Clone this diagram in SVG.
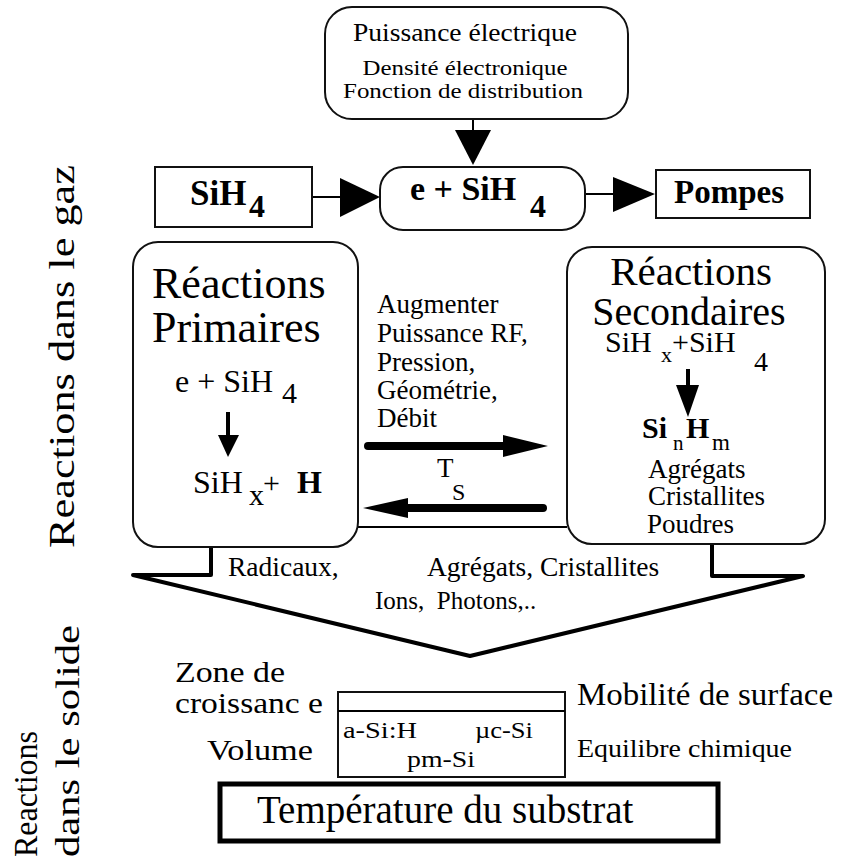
<svg xmlns="http://www.w3.org/2000/svg" width="842" height="859" viewBox="0 0 842 859">
<style>
text { font-family: "Liberation Serif", "Times New Roman", serif; fill: #000; }
.b { font-weight: bold; }
.box { fill: #fff; stroke: #111; stroke-width: 2; }
.ln { fill: none; stroke: #000; stroke-width: 2; }
.thick { fill: none; stroke: #000; stroke-width: 8; stroke-linecap: round; }
.mid { stroke: #000; stroke-width: 4; fill: none; }
.head { fill: #000; stroke: none; }
</style>
<rect width="842" height="859" fill="#fff"/>

<g id="side-labels">
  <text transform="translate(74,548) rotate(-90)" font-size="35" textLength="383" lengthAdjust="spacingAndGlyphs">Reactions dans le gaz</text>
  <text transform="translate(37,857) rotate(-90)" font-size="34" textLength="126" lengthAdjust="spacingAndGlyphs">Reactions</text>
  <text transform="translate(79,857) rotate(-90)" font-size="34" textLength="232" lengthAdjust="spacingAndGlyphs">dans le solide</text>
</g>

<g id="connectors">
  <line class="ln" x1="473" y1="119" x2="473" y2="131"/>
  <polygon class="head" points="455,130 491,130 473,165"/>
  <line class="ln" x1="312" y1="197" x2="342" y2="197"/>
  <polygon class="head" points="340,178 340,217 380,197"/>
  <line class="ln" x1="585" y1="194" x2="615" y2="194"/>
  <polygon class="head" points="613,177 613,212 655,194"/>
  <line class="ln" x1="358" y1="527" x2="567" y2="527"/>
  <line class="thick" x1="368" y1="446" x2="505" y2="446"/>
  <polygon class="head" points="503,435 503,457 548,446"/>
  <line class="thick" x1="543" y1="508" x2="405" y2="508"/>
  <polygon class="head" points="408,498 408,518 363,508"/>
  <path class="mid" stroke-linejoin="round" d="M211 547 V575 H133 L470 656 L803 576 H712 V544"/>
</g>

<g id="top-box">
  <rect class="box" x="325" y="7" width="303" height="112" rx="27"/>
  <text x="465" y="41" font-size="25" text-anchor="middle" textLength="224" lengthAdjust="spacingAndGlyphs">Puissance électrique</text>
  <text x="465" y="75" font-size="22" text-anchor="middle" textLength="205" lengthAdjust="spacingAndGlyphs">Densité électronique</text>
  <text x="463" y="98" font-size="22" text-anchor="middle" textLength="240" lengthAdjust="spacingAndGlyphs">Fonction de distribution</text>
</g>

<g id="sih4">
  <rect class="box" x="155" y="167" width="157" height="60"/>
  <text class="b" x="190" y="205" font-size="35">SiH</text>
  <text class="b" x="249" y="217" font-size="32">4</text>
</g>

<g id="e-sih4">
  <rect class="box" x="380" y="167" width="205" height="63" rx="23"/>
  <text class="b" x="410" y="200" font-size="34">e + SiH</text>
  <text class="b" x="530" y="217" font-size="32">4</text>
</g>

<g id="pompes">
  <rect class="box" x="656" y="170" width="154" height="48"/>
  <text class="b" x="674" y="203" font-size="33">Pompes</text>
</g>

<g id="primaires">
  <rect class="box" x="133" y="242" width="225" height="305" rx="25"/>
  <text x="152" y="298" font-size="44">Réactions</text>
  <text x="152" y="342" font-size="44">Primaires</text>
  <text x="175" y="392" font-size="32">e + SiH</text>
  <text x="282" y="403" font-size="30">4</text>
  <line class="mid" x1="228" y1="412" x2="228" y2="437"/>
  <polygon class="head" points="218,435 239,435 228,457"/>
  <text x="193" y="493" font-size="32">SiH</text>
  <text x="249" y="505" font-size="30">x</text>
  <text x="263" y="493" font-size="30">+</text>
  <text class="b" x="297" y="493" font-size="32">H</text>
</g>

<g id="conditions">
  <text x="377" y="313" font-size="27">Augmenter</text>
  <text x="377" y="342" font-size="27">Puissance RF,</text>
  <text x="377" y="371" font-size="27">Pression,</text>
  <text x="377" y="399" font-size="27">Géométrie,</text>
  <text x="377" y="427" font-size="27">Débit</text>
  <text x="437" y="477" font-size="27">T</text>
  <text x="452" y="500" font-size="24">S</text>
</g>

<g id="secondaires">
  <rect class="box" x="567" y="247" width="258" height="297" rx="25"/>
  <text x="691" y="285" font-size="41" text-anchor="middle">Réactions</text>
  <text x="689" y="325" font-size="40" text-anchor="middle">Secondaires</text>
  <text x="605" y="352" font-size="30">SiH</text>
  <text x="661" y="362" font-size="22">x</text>
  <text x="672" y="352" font-size="30">+SiH</text>
  <text x="754" y="371" font-size="28">4</text>
  <line class="mid" x1="688" y1="369" x2="688" y2="387"/>
  <polygon class="head" points="676,385 699,385 688,417"/>
  <text class="b" x="642" y="438" font-size="30">Si</text>
  <text x="673" y="450" font-size="21">n</text>
  <text class="b" x="686" y="438" font-size="30">H</text>
  <text x="712" y="450" font-size="23">m</text>
  <text x="648" y="478" font-size="27">Agrégats</text>
  <text x="648" y="505" font-size="27">Cristallites</text>
  <text x="647" y="533" font-size="27">Poudres</text>
</g>

<g id="products">
  <text x="228" y="576" font-size="27.5">Radicaux,</text>
  <text x="427" y="576" font-size="27.5">Agrégats, Cristallites</text>
  <text x="375" y="609" font-size="25" xml:space="preserve">Ions,  Photons,..</text>
</g>

<g id="solid">
  <text x="175" y="682" font-size="30" textLength="110" lengthAdjust="spacingAndGlyphs">Zone de</text>
  <text x="175" y="713" font-size="30" textLength="148" lengthAdjust="spacingAndGlyphs">croissanc e</text>
  <text x="207" y="760" font-size="30" textLength="106" lengthAdjust="spacingAndGlyphs">Volume</text>
  <rect class="box" x="338" y="692" width="227" height="85"/>
  <line class="ln" x1="338" y1="711" x2="565" y2="711"/>
  <text x="343" y="738" font-size="24" textLength="74" lengthAdjust="spacingAndGlyphs">a-Si:H</text>
  <text x="475" y="738" font-size="24" textLength="58" lengthAdjust="spacingAndGlyphs">µc-Si</text>
  <text x="407" y="767" font-size="24" textLength="68" lengthAdjust="spacingAndGlyphs">pm-Si</text>
  <text x="577" y="705" font-size="31" textLength="256" lengthAdjust="spacingAndGlyphs">Mobilité de surface</text>
  <text x="577" y="757" font-size="26" textLength="215" lengthAdjust="spacingAndGlyphs">Equilibre chimique</text>
</g>

<g id="substrat">
  <rect x="220" y="784" width="498" height="57" fill="#fff" stroke="#000" stroke-width="5"/>
  <text x="257" y="823" font-size="39">Température du substrat</text>
</g>
</svg>
